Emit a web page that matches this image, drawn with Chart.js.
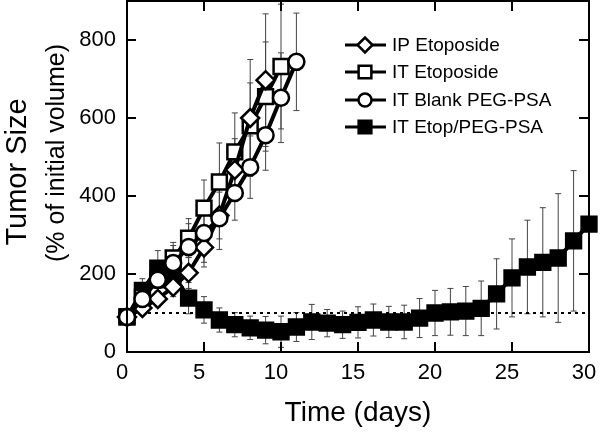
<!DOCTYPE html>
<html>
<head>
<meta charset="utf-8">
<script src="https://cdn.jsdelivr.net/npm/chart.js@4/dist/chart.umd.min.js"></script>
<style>
  html, body { margin: 0; padding: 0; background: #fff; }
  #wrap { width: 600px; height: 434px; position: relative; }
</style>
</head>
<body>
<div id="wrap"><canvas id="c"></canvas></div>
<script>
// values (% of initial volume per day)
const days = [0,1,2,3,4,5,6,7,8,9,10,11,12,13,14,15,16,17,18,19,20,21,22,23,24,25,26,27,28,29,30];
const ipEtoposide    = [90,113,136,167,203,268,350,467,600,697];
const ipEtoposideErr = [8,15,20,25,40,50,60,80,150,170];
const itEtoposide    = [90,140,185,241,292,369,436,513,580,655,732];
const itEtoposideErr = [8,20,30,40,50,72,100,100,110,140,160];
const itBlank        = [90,136,185,228,269,305,343,408,474,556,652,744];
const itBlankErr     = [8,20,30,45,60,75,80,70,80,90,115,125];
const itEtopPeg      = [90,158,215,200,138,108,82,70,62,56,52,64,77,74,70,76,82,77,77,87,100,103,105,112,149,190,218,230,241,285,328];
const itEtopPegErr   = [8,30,45,40,40,34,31,31,30,35,40,37,45,35,35,40,41,40,43,50,58,60,63,70,90,100,120,140,165,180,null];
const baseline = [100, 100];
const baselineDays = [0, 30];
const seriesNames = ['IP Etoposide', 'IT Etoposide', 'IT Blank PEG-PSA', 'IT Etop/PEG-PSA'];
const xTicks = [0,5,10,15,20,25,30];
const yTicks = [0,200,400,600,800];

const FONT = "'Liberation Sans', Arial, Helvetica, sans-serif";

function pts(vals, xs){ return vals.map((v,i) => ({ x: (xs||days)[i], y: v })); }

function mkSeries(label, vals, err, style, fill, r, order){
  return {
    label, data: pts(vals), err,
    borderColor: '#000', borderWidth: 4, tension: 0,
    pointStyle: style, pointRadius: r, pointHoverRadius: r,
    pointBackgroundColor: fill, pointBorderColor: '#000', pointBorderWidth: 2.5,
    clip: false, order
  };
}

// little marker painter, used by the legend
function marker(ctx, style, fill, x, y, r){
  ctx.beginPath();
  if (style === 'rectRot'){
    ctx.moveTo(x - r, y); ctx.lineTo(x, y - r); ctx.lineTo(x + r, y); ctx.lineTo(x, y + r); ctx.closePath();
  } else if (style === 'rect'){
    const s = r * Math.SQRT1_2; ctx.rect(x - s, y - s, 2*s, 2*s);
  } else {
    ctx.arc(x, y, r, 0, Math.PI*2);
  }
  ctx.fillStyle = fill; ctx.fill();
  ctx.lineWidth = 2.5; ctx.strokeStyle = '#000'; ctx.stroke();
}

const errorBars = {
  id: 'errorBars',
  beforeDatasetsDraw(chart){
    const {ctx, chartArea: a, scales: {x, y}} = chart;
    ctx.save();
    ctx.beginPath(); ctx.rect(a.left - 20, a.top, a.width + 40, a.height); ctx.clip();
    ctx.strokeStyle = '#444'; ctx.lineWidth = 1;
    chart.data.datasets.forEach(ds => {
      if (!ds.err) return;
      ds.data.forEach((p, i) => {
        const e = ds.err[i];
        if (e == null) return;
        const px = x.getPixelForValue(p.x);
        const t = y.getPixelForValue(p.y + e), b = y.getPixelForValue(p.y - e);
        ctx.beginPath();
        ctx.moveTo(px, t); ctx.lineTo(px, b);
        ctx.moveTo(px - 3, t); ctx.lineTo(px + 3, t);
        ctx.moveTo(px - 3, b); ctx.lineTo(px + 3, b);
        ctx.stroke();
      });
    });
    ctx.restore();
  }
};

// box frame, inward ticks on all four sides, y title
const frame = {
  id: 'frame',
  afterDraw(chart){
    const {ctx, chartArea: a, scales: {x, y}} = chart;
    ctx.save();
    ctx.strokeStyle = '#000'; ctx.lineWidth = 2;
    ctx.strokeRect(a.left, a.top, a.width, a.height);
    ctx.beginPath();
    xTicks.forEach(v => {
      const px = x.getPixelForValue(v);
      ctx.moveTo(px, a.bottom); ctx.lineTo(px, a.bottom - 10);
      ctx.moveTo(px, a.top); ctx.lineTo(px, a.top + 10);
    });
    yTicks.forEach(v => {
      const py = y.getPixelForValue(v);
      ctx.moveTo(a.left, py); ctx.lineTo(a.left + 9, py);
      ctx.moveTo(a.right, py); ctx.lineTo(a.right - 10, py);
    });
    ctx.stroke();

    // y title, two lines in two sizes
    ctx.fillStyle = '#000'; ctx.textAlign = 'center'; ctx.textBaseline = 'middle';
    ctx.translate(18, 172); ctx.rotate(-Math.PI/2);
    ctx.font = `29px ${FONT}`; ctx.fillText('Tumor Size', 0, 0);
    ctx.font = `25px ${FONT}`; ctx.fillText('(% of initial volume)', 19, 39);
    ctx.restore();
  }
};

const legendBox = {
  id: 'legendBox',
  afterDraw(chart){
    const {ctx} = chart;
    const rows = [45, 72, 100, 127];
    const looks = [['rectRot','#fff',7.5], ['rect','#fff',9], ['circle','#fff',6.5], ['rect','#000',9]];
    ctx.save();
    rows.forEach((ry, i) => {
      ctx.beginPath(); ctx.moveTo(345, ry); ctx.lineTo(386, ry);
      ctx.lineWidth = 3; ctx.strokeStyle = '#000'; ctx.stroke();
      marker(ctx, looks[i][0], looks[i][1], 365, ry, looks[i][2]);
      ctx.fillStyle = '#000'; ctx.font = `19px ${FONT}`;
      ctx.textAlign = 'left'; ctx.textBaseline = 'middle';
      ctx.fillText(seriesNames[i], 392, ry + 1);
    });
    ctx.restore();
  }
};

new Chart(document.getElementById('c'), {
  type: 'line',
  data: {
    datasets: [
      mkSeries(seriesNames[0], ipEtoposide, ipEtoposideErr, 'rectRot', '#fff', 9, 1),
      mkSeries(seriesNames[1], itEtoposide, itEtoposideErr, 'rect', '#fff', 10.5, 2),
      mkSeries(seriesNames[2], itBlank, itBlankErr, 'circle', '#fff', 8, 0),
      mkSeries(seriesNames[3], itEtopPeg, itEtopPegErr, 'rect', '#000', 10.5, 3),
      {
        label: 'baseline', data: pts(baseline, baselineDays),
        borderColor: '#000', borderWidth: 2, borderDash: [3, 4],
        pointRadius: 0, order: 4, clip: false
      }
    ]
  },
  options: {
    responsive: true,
    maintainAspectRatio: false,
    animation: false,
    events: [],
    layout: { autoPadding: false, padding: { top: 1, right: 11, left: 0, bottom: 0 } },
    plugins: { legend: { display: false }, tooltip: { enabled: false } },
    scales: {
      x: {
        type: 'linear', min: 0, max: 30,
        afterBuildTicks: s => { s.ticks = xTicks.map(v => ({ value: v })); },
        afterFit: s => { s.height = 82; s.paddingLeft = 0; s.paddingRight = 0; },
        grid: { display: false, drawTicks: false },
        border: { display: false },
        ticks: { color: '#000', font: { family: FONT, size: 22 }, padding: 8, labelOffset: -5, maxRotation: 0, autoSkip: false },
        title: { display: true, text: 'Time (days)', color: '#000', font: { family: FONT, size: 28 }, padding: { top: 0, bottom: 4 } }
      },
      y: {
        type: 'linear', min: 0, max: 900,
        afterBuildTicks: s => { s.ticks = yTicks.map(v => ({ value: v })); },
        afterFit: s => { s.width = 127; s.paddingTop = 0; s.paddingBottom = 0; },
        grid: { display: false, drawTicks: false },
        border: { display: false },
        ticks: { color: '#000', font: { family: FONT, size: 22 }, padding: 11 }
      }
    }
  },
  plugins: [errorBars, frame, legendBox]
});
</script>
</body>
</html>
